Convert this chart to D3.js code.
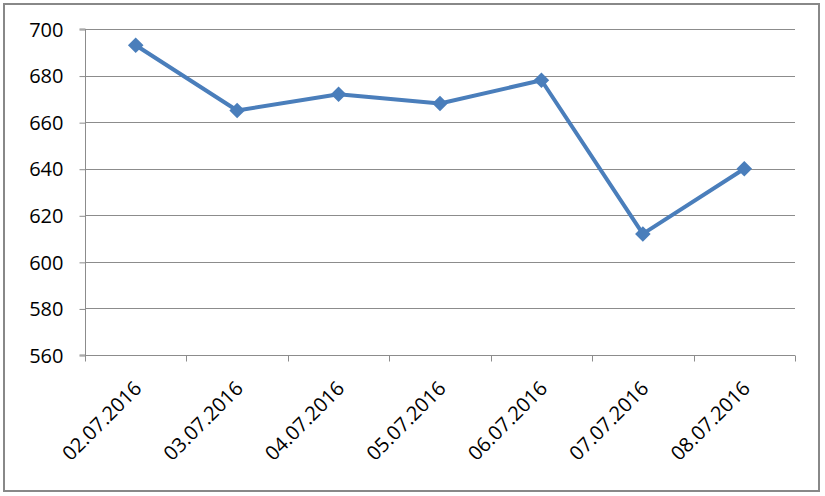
<!DOCTYPE html>
<html><head><meta charset="utf-8">
<script src="https://cdn.jsdelivr.net/npm/d3@7"></script>
<style>body{margin:0;background:#fff}svg{display:block}</style>
</head><body>
<svg id="c" width="825" height="496"></svg>
<script>
const categories = ["02.07.2016","03.07.2016","04.07.2016","05.07.2016","06.07.2016","07.07.2016","08.07.2016"];
const values = [693, 665, 672, 668, 678, 612, 640];
const yTicks = [560, 580, 600, 620, 640, 660, 680, 700];

const svg = d3.select("#c");
const W = 825, H = 496;
const m = {left: 85, right: 30, top: 29, bottom: 141};
svg.append("rect").attr("x", 4).attr("y", 4).attr("width", 815).attr("height", 487)
  .attr("fill", "#fff").attr("stroke", "#888").attr("stroke-width", 2);

const x = d3.scaleBand().domain(categories).range([m.left, W - m.right]);
const y = d3.scaleLinear().domain([560, 700]).range([H - m.bottom, m.top]);
const font = "'Open Sans', sans-serif";

// gridlines
svg.append("g").selectAll("line").data(yTicks.slice(1)).join("line")
  .attr("x1", m.left).attr("x2", W - m.right)
  .attr("y1", d => Math.round(y(d)) + 0.5).attr("y2", d => Math.round(y(d)) + 0.5)
  .attr("stroke", "#8c8c8c").attr("stroke-width", 1);

// y axis
const ya = svg.append("g").attr("transform", `translate(${m.left + 0.5},0)`)
  .call(d3.axisLeft(y).tickValues(yTicks).tickSize(6).tickPadding(16).tickFormat(d3.format("d")));
ya.select(".domain").attr("stroke", "#8c8c8c").attr("d", `M-6,${y(560)}H0V${y(700)}H-6`);
ya.selectAll(".tick line").attr("stroke", "#8c8c8c").attr("transform", "translate(0,0.5)");
ya.selectAll("text").attr("font-family", font).attr("font-size", 20).attr("fill", "#000").attr("dy", "0.36em");

// x axis
const xa = svg.append("g").attr("transform", `translate(0,${Math.round(y(560)) + 0.5})`);
xa.append("line").attr("x1", m.left).attr("x2", W - m.right).attr("stroke", "#8c8c8c");
const edges = categories.map(c => x(c)).concat([W - m.right]);
xa.selectAll("line.tk").data(edges).join("line").attr("class", "tk")
  .attr("x1", d => Math.round(d) + 0.5).attr("x2", d => Math.round(d) + 0.5)
  .attr("y1", 0).attr("y2", 6).attr("stroke", "#8c8c8c");
xa.selectAll("text").data(categories).join("text")
  .attr("transform", d => `translate(${x(d) + x.bandwidth() / 2 + 2},${29}) rotate(-45)`)
  .attr("text-anchor", "end").attr("dy", "0.36em")
  .attr("font-family", font).attr("font-size", 20).attr("fill", "#000")
  .text(d => d);

// line
const cx = d => x(d) + x.bandwidth() / 2;
svg.append("path").datum(values)
  .attr("d", d3.line().x((v, i) => cx(categories[i])).y(v => y(v)))
  .attr("fill", "none").attr("stroke", "#4a7ebb").attr("stroke-width", 4).attr("stroke-linejoin", "round");
svg.append("g").selectAll("path").data(values).join("path")
  .attr("transform", (v, i) => `translate(${cx(categories[i])},${y(v)}) rotate(45)`)
  .attr("d", d3.symbol(d3.symbolSquare, 121)())
  .attr("fill", "#4a7ebb");
</script>
</body></html>
